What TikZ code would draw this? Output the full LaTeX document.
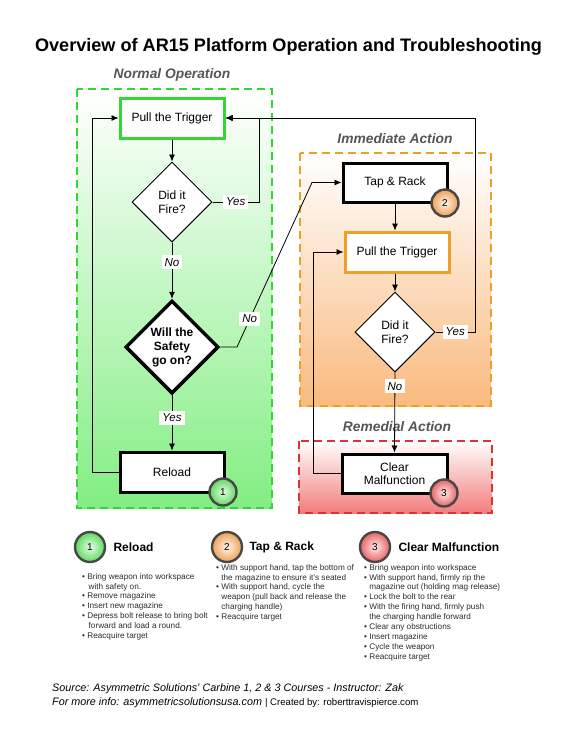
\documentclass[tikz,border=0pt]{standalone}
\usepackage{fontspec}
\setmainfont{Liberation Sans}
\usetikzlibrary{shapes.geometric,arrows.meta,calc}
\definecolor{gline}{RGB}{51,214,51}
\definecolor{gfill}{RGB}{130,238,130}
\definecolor{oline}{RGB}{236,160,40}
\definecolor{ofill}{RGB}{249,186,126}
\definecolor{rline}{RGB}{220,50,50}
\definecolor{rfill}{RGB}{243,125,125}
\definecolor{lblgray}{RGB}{85,85,85}
\definecolor{txtgray}{RGB}{45,45,45}
\definecolor{gbadge}{RGB}{95,215,95}
\definecolor{obadge}{RGB}{238,160,85}
\definecolor{rbadge}{RGB}{230,100,100}
\tikzset{
  zone/.style={dashed, dash pattern=on 8pt off 5pt, line width=2.2pt},
  zonelabel/.style={font=\fontsize{13.8}{16}\selectfont\bfseries\itshape, text=lblgray},
  stepbox/.style={rectangle, draw=black, fill=white, line width=3pt, minimum width=104, minimum height=40, align=center, font=\fontsize{12}{14}\selectfont},
  decide/.style={diamond, draw=black, fill=white, line width=1pt, minimum width=80, minimum height=80, inner sep=0pt, align=center, font=\fontsize{12}{14}\selectfont},
  conn/.style={line width=0.8pt, -{Latex[length=7pt,width=6pt]}},
  lbl/.style={fill=white, inner sep=3pt, font=\fontsize{11.5}{13}\selectfont\itshape},
  badge/.style={circle, draw=black!72, line width=2.4pt, minimum size=27, inner sep=0pt, font=\fontsize{10}{12}\selectfont},
  bul/.style={anchor=north west, inner sep=0pt, align=left, text=txtgray, font=\fontsize{8.2}{9.9}\selectfont},
  legendhead/.style={anchor=west, font=\fontsize{12}{14}\selectfont\bfseries},
}
\begin{document}
\begin{tikzpicture}[x=1pt,y=-1pt]
\path[use as bounding box, fill=white] (0,0) rectangle (576,745);

% title
\node[font=\fontsize{18.1}{21}\selectfont\bfseries] (title) at (288.5,47) {Overview of AR15 Platform Operation and Troubleshooting};

% zones
\draw[zone, draw=gline, top color=white, bottom color=gfill] (77,89) rectangle (272,508);
\draw[zone, draw=oline, top color=white, bottom color=ofill] (300,153) rectangle (491,406);
\draw[zone, draw=rline, top color=white, bottom color=rfill] (299,441) rectangle (492,513);
\node[zonelabel] (lnormal) at (172,75) {Normal Operation};
\node[zonelabel] (limm) at (395,139) {Immediate Action};
\node[zonelabel] (lrem) at (397,427) {Remedial Action};

% nodes
\node[stepbox, draw=gline] (pt1) at (172,118) {Pull the Trigger};
\node[decide] (fire1) at (172,202) {Did it\\Fire?};
\node[decide, line width=3.5pt, minimum width=93, minimum height=93, font=\fontsize{12}{14}\selectfont\bfseries] (safety) at (172,347) {Will the\\Safety\\go on?};
\node[stepbox] (reload) at (172,472) {Reload};
\node[stepbox, minimum height=39] (tap) at (395,182.5) {Tap \& Rack};
\node[stepbox, draw=oline] (pt2) at (397,252) {Pull the Trigger};
\node[decide] (fire2) at (395,332) {Did it\\Fire?};
\node[stepbox, minimum width=105, minimum height=39, font=\fontsize{12}{13.5}\selectfont] (clear) at (394.5,473.5) {Clear\\Malfunction};

% helper coordinates
\coordinate (c1) at (259,202);
\coordinate (c2) at (237,347);
\coordinate (c3) at (312,182.5);
\coordinate (c4) at (92,472);
\coordinate (c5) at (475,332);
\coordinate (c6) at (475,118);
\coordinate (c7) at (313,473.5);

% connectors
\draw[conn] (pt1.south) -- (fire1.north);
\draw[conn] (fire1.south) -- node[lbl, pos=0.35] (no1) {No} (safety.north);
\draw[conn] (fire1.east) -- node[lbl] (yes1) {Yes} (c1) |- (pt1.east);
\draw[conn] (safety.east) -- (c2) -- node[lbl, pos=0.17] (no2) {No} (c3) -- (tap.west);
\draw[conn] (safety.south) -- node[lbl, pos=0.41] (yes2) {Yes} (reload.north);
\draw[conn] (reload.west) -- (c4) |- (pt1.west);
\draw[conn] (tap.south) -- (tap.south |- pt2.north);
\draw[conn] (pt2.south -| fire2.north) -- (fire2.north);
\draw[conn] (fire2.east) -- node[lbl] (yes3) {Yes} (c5) -- (c6) -- (pt1.east);
\draw[conn] (fire2.south) -- node[lbl, pos=0.17] (no3) {No} (clear.north);
\draw[conn] (clear.west) -- (c7) |- (pt2.west);

% badges in diagram
\node[badge, inner color=green!10, outer color=gbadge] (b1) at (223,492) {1};
\node[badge, inner color=orange!8, outer color=obadge] (b2) at (445,203) {2};
\node[badge, inner color=red!8, outer color=rbadge] (b3) at (444,493) {3};

% legend
\node[badge, minimum size=30, inner color=green!10, outer color=gbadge] (l1) at (90,547) {1};
\node[legendhead] (h1) at (110,547) {Reload};
\node[badge, minimum size=30, inner color=orange!8, outer color=obadge] (l2) at (227,547) {2};
\node[legendhead] (h2) at (246,547) {Tap \& Rack};
\node[badge, minimum size=30, inner color=red!8, outer color=rbadge] (l3) at (375,547) {3};
\node[legendhead] (h3) at (395,547) {Clear Malfunction};

\node[bul] (t1) at (82,573) {• Bring weapon into workspace\\\phantom{• }\,with safety on.\\• Remove magazine\\• Insert new magazine\\• Depress bolt release to bring bolt\\\phantom{• }\,forward and load a round.\\• Reacquire target};
\node[bul] (t2) at (216,564) {• With support hand, tap the bottom of\\\phantom{• }the magazine to ensure it's seated\\• With support hand, cycle the\\\phantom{• }weapon (pull back and release the\\\phantom{• }charging handle)\\• Reacquire target};
\node[bul] (t3) at (364,564) {• Bring weapon into workspace\\• With support hand, firmly rip the\\\phantom{• }magazine out (holding mag release)\\• Lock the bolt to the rear\\• With the firing hand, firmly push\\\phantom{• }the charging handle forward\\• Clear any obstructions\\• Insert magazine\\• Cycle the weapon\\• Reacquire target};

% footer
\node[anchor=west, inner sep=0pt, font=\fontsize{10.8}{12}\selectfont\itshape] (src) at (52,689) {Source: Asymmetric Solutions' Carbine 1, 2 \& 3 Courses - Instructor: Zak};
\node[anchor=west, inner sep=0pt, font=\fontsize{10.8}{12}\selectfont] (info) at (52,703) {\textit{For more info: asymmetricsolutionsusa.com} {\fontsize{9.6}{12}\selectfont | Created by: roberttravispierce.com}};
\end{tikzpicture}
\end{document}
